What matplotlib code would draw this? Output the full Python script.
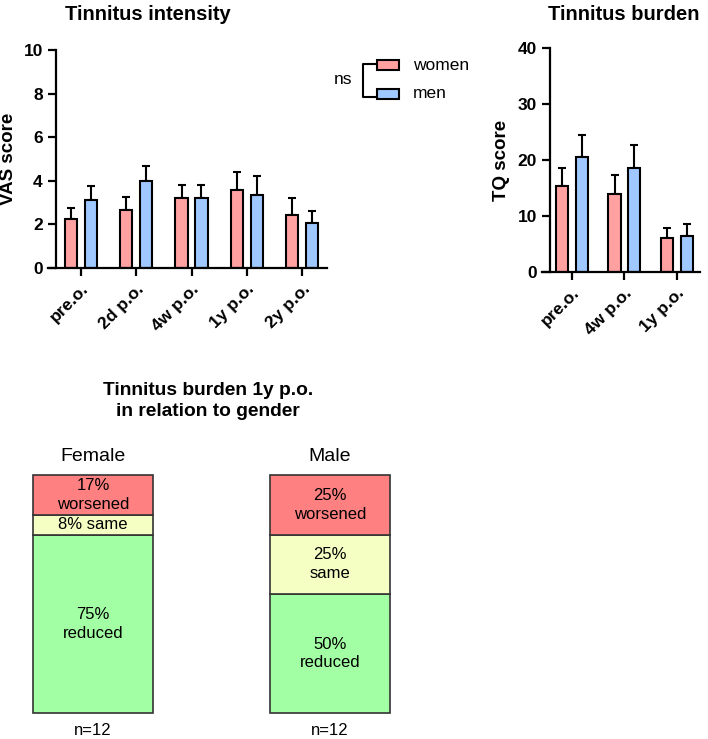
"""
Tinnitus intensity / burden by gender, plus 1y outcome stacked boxes.
"""

import numpy as np
import matplotlib.pyplot as plt
from matplotlib.patches import Rectangle

plt.rcParams['font.family'] = ['Liberation Sans', 'DejaVu Sans']

# VAS (tinnitus intensity)
vas_labels = ['pre.o.', '2d p.o.', '4w p.o.', '1y p.o.', '2y p.o.']
vas_women = [2.27, 2.65, 3.2, 3.6, 2.45]
vas_women_err = [0.5, 0.6, 0.6, 0.82, 0.77]
vas_men = [3.1, 4.0, 3.2, 3.35, 2.05]
vas_men_err = [0.65, 0.67, 0.62, 0.87, 0.55]

# TQ (tinnitus burden)
tq_labels = ['pre.o.', '4w p.o.', '1y p.o.']
tq_women = [15.4, 14.0, 6.0]
tq_women_err = [3.1, 3.3, 1.9]
tq_men = [20.6, 18.5, 6.5]
tq_men_err = [3.9, 4.2, 2.0]

# 1y outcome in percent (worsened, same, reduced)
groups = ['Female', 'Male']
group_n = [12, 12]
worsened = [17, 25]
same = [8, 25]
reduced = [75, 50]

C_WOMEN = '#ffa1a1'
C_MEN = '#9ec8ff'
C_WORSE = '#ff8080'
C_SAME = '#f5ffc3'
C_REDUCED = '#a3ffa3'

W, H = 708, 739


def px_axes(fig, x0, y0, x1, y1):
    """Axes from pixel box (left, top, right, bottom)."""
    return fig.add_axes([x0 / W, 1 - y1 / H, (x1 - x0) / W, (y1 - y0) / H])


def style_axes(ax):
    for s in ['top', 'right']:
        ax.spines[s].set_visible(False)
    for s in ['left', 'bottom']:
        ax.spines[s].set_linewidth(1.6)
    ax.tick_params(width=1.6, length=6, labelsize=12.5)
    for lab in ax.get_yticklabels():
        lab.set_fontweight('bold')


def grouped_bars(ax, labels, w, w_err, m, m_err, offset, width):
    x = np.arange(len(labels))
    for xs, vals, errs, col in [(x - offset, w, w_err, C_WOMEN),
                                (x + offset, m, m_err, C_MEN)]:
        ax.bar(xs, vals, width, color=col, edgecolor='black', linewidth=1.5, zorder=2)
        ax.errorbar(xs, vals, yerr=[np.zeros(len(vals)), errs], fmt='none',
                    ecolor='black', elinewidth=1.5, capsize=2.8, capthick=1.5, zorder=1)
    ax.set_xticks(x)
    ax.set_xticklabels(labels, rotation=45, ha='right', rotation_mode='anchor',
                       fontsize=12, fontweight='bold')


fig = plt.figure(figsize=(W / 100, H / 100), dpi=100)

# --- Tinnitus intensity ---
ax1 = px_axes(fig, 56, 50, 327, 268)
grouped_bars(ax1, vas_labels, vas_women, vas_women_err, vas_men, vas_men_err, 0.18, 0.22)
ax1.set_xlim(-0.45, 4.45)
ax1.set_ylim(0, 10)
ax1.set_yticks([0, 2, 4, 6, 8, 10])
style_axes(ax1)
ax1.spines['bottom'].set_bounds(-0.6, 4.45)
ax1.set_ylabel('VAS score', fontsize=13.5, fontweight='bold')
ax1.yaxis.set_label_coords(-0.145, 0.5)
fig.text(148 / W, 1 - 15 / H, 'Tinnitus intensity', ha='center', va='center',
         fontsize=14.5, fontweight='bold')

# legend with ns bracket
for yy, col, lab in [(65, C_WOMEN, 'women'), (94, C_MEN, 'men')]:
    fig.patches.append(Rectangle((377 / W, 1 - (yy + 5) / H), 22 / W, 10 / H,
                                 transform=fig.transFigure, facecolor=col,
                                 edgecolor='black', linewidth=1.5))
    fig.text(413 / W, 1 - yy / H, lab, ha='left', va='center', fontsize=12.5)
fig.lines.append(plt.Line2D([376 / W, 363 / W, 363 / W, 376 / W],
                            [1 - 64 / H, 1 - 64 / H, 1 - 97 / H, 1 - 97 / H],
                            transform=fig.transFigure, color='black', linewidth=1.5))
fig.text(343 / W, 1 - 79 / H, 'ns', ha='center', va='center', fontsize=12.5)

# --- Tinnitus burden ---
ax2 = px_axes(fig, 550, 48, 700, 272)
grouped_bars(ax2, tq_labels, tq_women, tq_women_err, tq_men, tq_men_err, 0.19, 0.23)
ax2.set_xlim(-0.42, 2.44)
ax2.set_ylim(0, 40)
ax2.set_yticks([0, 10, 20, 30, 40])
style_axes(ax2)
ax2.spines['bottom'].set_bounds(-0.58, 2.44)
ax2.set_ylabel('TQ score', fontsize=13.5, fontweight='bold')
ax2.yaxis.set_label_coords(-0.27, 0.5)
fig.text(624 / W, 1 - 15 / H, 'Tinnitus burden', ha='center', va='center',
         fontsize=14.5, fontweight='bold')

# --- 1y outcome stacked boxes ---
ax3 = px_axes(fig, 20, 475, 420, 713)
ax3.set_xlim(0, 400)
ax3.set_ylim(0, 100)
ax3.axis('off')
box_x = [13, 250]
box_w = 120
for i, g in enumerate(groups):
    segs = [(reduced[i], C_REDUCED, f'{reduced[i]}%\nreduced'),
            (same[i], C_SAME, f'{same[i]}% same' if same[i] < 15 else f'{same[i]}%\nsame'),
            (worsened[i], C_WORSE, f'{worsened[i]}%\nworsened')]
    bottom = 0
    for val, col, txt in segs:
        ax3.add_patch(Rectangle((box_x[i], bottom), box_w, val, facecolor=col,
                                edgecolor='#333333', linewidth=1.2, clip_on=False))
        ax3.text(box_x[i] + box_w / 2, bottom + val / 2, txt, ha='center', va='center',
                 fontsize=12, linespacing=1.3)
        bottom += val
    ax3.text(box_x[i] + box_w / 2, 104, g, ha='center', va='bottom', fontsize=14)
    ax3.text(box_x[i] + box_w / 2, -4, f'n={group_n[i]}', ha='center', va='top',
             fontsize=12)

fig.text(208 / W, 1 - 401 / H, 'Tinnitus burden 1y p.o.\nin relation to gender',
         ha='center', va='center', fontsize=13.8, fontweight='bold', linespacing=1.35)

fig.savefig('out.png', dpi=100)
